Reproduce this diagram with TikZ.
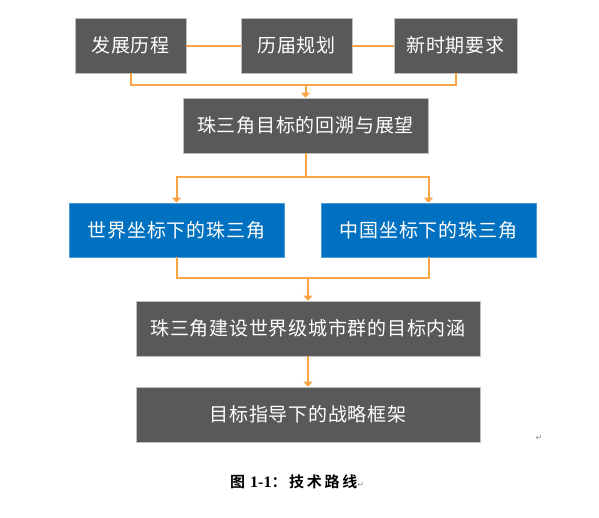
\documentclass[tikz,border=0pt]{standalone}
\usepackage{fontspec}
\usetikzlibrary{arrows.meta}
\newfontfamily\cjk[LetterSpace=4]{Noto Sans CJK SC}
\newfontfamily\cjkb[LetterSpace=18]{Noto Sans CJK SC Bold}
\newfontfamily\symf{DejaVu Sans}
\setmainfont{Liberation Serif}
\definecolor{boxgray}{HTML}{595959}
\definecolor{boxblue}{HTML}{0070C0}
\definecolor{lineorange}{HTML}{FBA443}
\begin{document}
\begin{tikzpicture}[x=1pt,y=-1pt,
  gbox/.style={fill=boxgray,draw=black!25,line width=0.6pt,text=white,minimum height=55pt,inner sep=0pt,font=\cjk\fontsize{19}{21}\selectfont},
  bbox/.style={gbox,fill=boxblue,draw=boxblue!70},
  conn/.style={draw=lineorange,line width=2pt},
  arr/.style={conn,-{Triangle[width=9pt,length=5pt]}}]
\useasboundingbox (0,0) rectangle (599,517);
\node[gbox,minimum width=111pt] (b1) at (130.5,45.5) {发展历程};
\node[gbox,minimum width=111pt] (b2) at (296.5,45.5) {历届规划};
\node[gbox,minimum width=123pt] (b3) at (455.5,45.5) {新时期要求};
\node[gbox,minimum width=245pt] (b4) at (305.5,125.5) {珠三角目标的回溯与展望};
\node[bbox,minimum width=215pt,minimum height=54pt] (c1) at (176.5,230) {世界坐标下的珠三角};
\node[bbox,minimum width=215pt,minimum height=54pt] (c2) at (428.5,230) {中国坐标下的珠三角};
\node[gbox,minimum width=344pt] (b5) at (308,328.5) {珠三角建设世界级城市群的目标内涵};
\node[gbox,minimum width=344pt] (b6) at (308,414.5) {目标指导下的战略框架};
\coordinate (j1) at (305.5,85);
\coordinate (j2) at (305.5,177);
\coordinate (j3) at (308,278);
\draw[conn] (b1.east) -- (b2.west);
\draw[conn] (b2.east) -- (b3.west);
\draw[conn] (b1.south) |- (j1) -| (b3.south);
\draw[arr] (j1) -- (b4.north);
\draw[conn] (b4.south) -- (j2);
\draw[arr] (j2) -| (c1.north);
\draw[arr] (j2) -| (c2.north);
\draw[conn] (c1.south) |- (j3) -| (c2.south);
\draw[arr] (j3) -- (b5.north);
\draw[arr] (b5.south) -- (b6.north);
\node[anchor=west,inner sep=0pt,font=\fontsize{15}{17}\selectfont] (cap) at (230,482) {{\cjkb 图}\hspace{5pt}{\rmfamily\bfseries\fontsize{16}{17}\selectfont 1-1}{\cjkb ：技术路线}\textcolor{black!45}{\symf\fontsize{8}{8}\selectfont ↵}};
\node[inner sep=0pt,text=black!45,font=\symf\fontsize{8}{8}\selectfont] (pm) at (539,438) {↵};
\end{tikzpicture}
\end{document}
